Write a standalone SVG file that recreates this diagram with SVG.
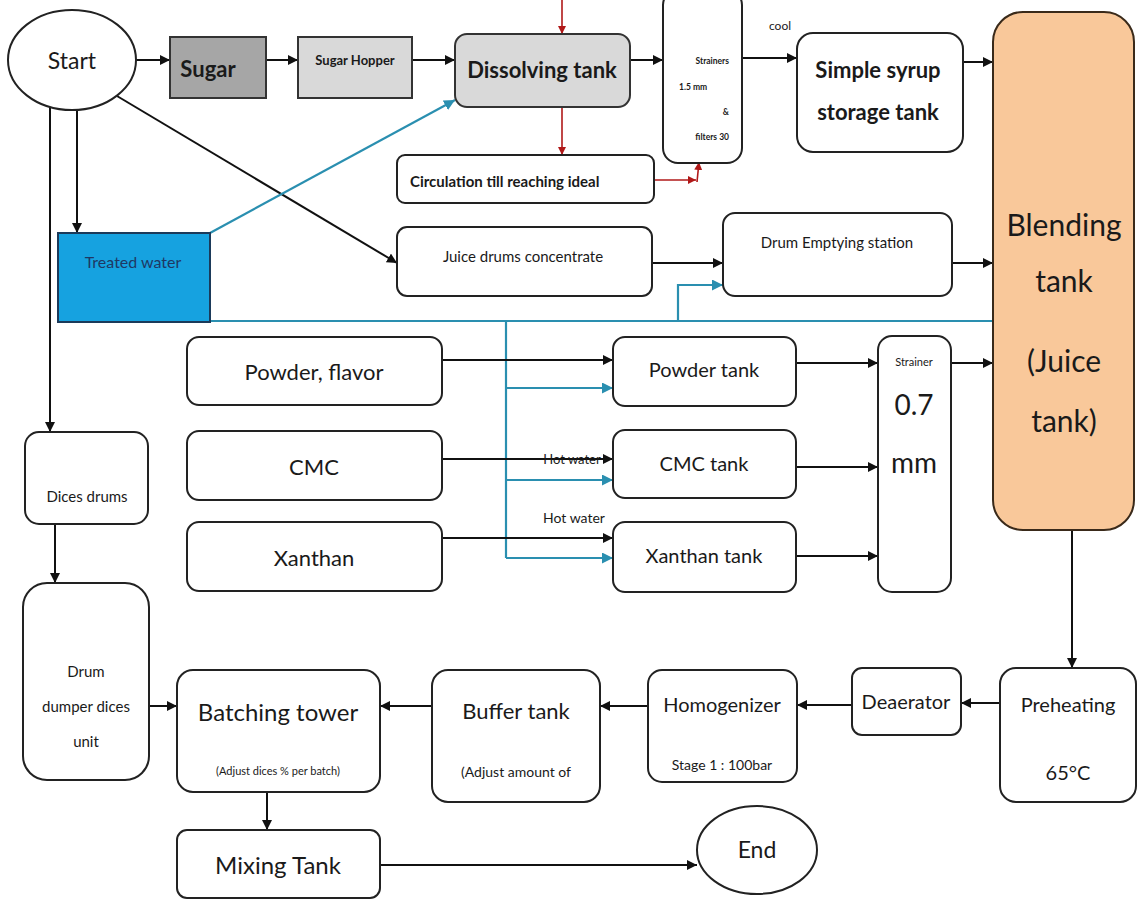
<svg xmlns="http://www.w3.org/2000/svg" width="1141" height="900" viewBox="0 0 1141 900">
<defs>
<marker id="ab" viewBox="0 0 10 10" refX="10" refY="5" markerWidth="5" markerHeight="5" orient="auto-start-reverse"><path d="M0,0 L10,5 L0,10 z" fill="#111"/></marker>
<marker id="au" viewBox="0 0 10 10" refX="10" refY="5" markerWidth="5" markerHeight="5" orient="auto"><path d="M0,0 L10,5 L0,10 z" fill="#2a8fb0"/></marker>
<marker id="ar" viewBox="0 0 10 10" refX="10" refY="5" markerWidth="5" markerHeight="5" orient="auto"><path d="M0,0 L10,5 L0,10 z" fill="#b01818"/></marker>
</defs>
<style>
.box{fill:#fff;stroke:#222;stroke-width:2}
.t{font-family:Lato,"Open Sans",sans-serif;fill:#1a1a1a;text-anchor:middle}
.b{font-weight:bold}
.k{stroke:#111;stroke-width:2;fill:none;marker-end:url(#ab)}
.u{stroke:#2a8fb0;stroke-width:2.2;fill:none}
.ua{stroke:#2a8fb0;stroke-width:2.2;fill:none;marker-end:url(#au)}
.r{stroke:#b01818;stroke-width:1.6;fill:none;marker-end:url(#ar)}
</style>
<rect width="1141" height="900" fill="#fff"/>
<g id="connectors">
<line class="k" x1="136" y1="60" x2="170" y2="60"/>
<line class="k" x1="266" y1="60" x2="298" y2="60"/>
<line class="k" x1="412" y1="60" x2="455" y2="60"/>
<line class="k" x1="630" y1="60" x2="663" y2="60"/>
<line class="k" x1="742" y1="58" x2="797" y2="58"/>
<line class="k" x1="963" y1="62" x2="993" y2="62"/>
<line class="r" x1="562" y1="0" x2="562" y2="34"/>
<line class="r" x1="562" y1="107" x2="562" y2="155"/>
<line class="r" x1="654" y1="180" x2="696" y2="180"/>
<line class="r" x1="697" y1="182" x2="699" y2="162"/>
<line class="k" x1="77" y1="110" x2="77" y2="233"/>
<line class="k" x1="50" y1="107" x2="50" y2="432"/>
<line class="k" x1="117" y1="96" x2="397" y2="263"/>
<line class="ua" x1="210" y1="233" x2="455" y2="100"/>
<line class="u" x1="210" y1="321" x2="993" y2="321"/>
<polyline class="ua" points="678,321 678,285 723,285"/>
<polyline class="u" points="506,321 506,558"/>
<line class="ua" x1="506" y1="388" x2="613" y2="388"/>
<line class="ua" x1="506" y1="480" x2="613" y2="480"/>
<line class="ua" x1="506" y1="558" x2="613" y2="558"/>
<line class="k" x1="652" y1="263" x2="723" y2="263"/>
<line class="k" x1="952" y1="263" x2="993" y2="263"/>
<line class="k" x1="442" y1="360" x2="613" y2="360"/>
<line class="k" x1="442" y1="459" x2="613" y2="459"/>
<line class="k" x1="442" y1="538" x2="613" y2="538"/>
<line class="k" x1="796" y1="363" x2="878" y2="363"/>
<line class="k" x1="796" y1="467" x2="878" y2="467"/>
<line class="k" x1="796" y1="556" x2="878" y2="556"/>
<line class="k" x1="951" y1="363" x2="993" y2="363"/>
<line class="k" x1="55" y1="525" x2="55" y2="583"/>
<line class="k" x1="149" y1="706" x2="177" y2="706"/>
<line class="k" x1="267" y1="792" x2="267" y2="830"/>
<line class="k" x1="380" y1="865" x2="697" y2="865"/>
<line class="k" x1="1072" y1="530" x2="1072" y2="668"/>
<line class="k" x1="1000" y1="703" x2="961" y2="703"/>
<line class="k" x1="852" y1="705" x2="797" y2="705"/>
<line class="k" x1="648" y1="706" x2="600" y2="706"/>
<line class="k" x1="432" y1="706" x2="380" y2="706"/>
<text class="t" x="780" y="30" font-size="12">cool</text>
<text class="t" x="572" y="464" font-size="13">Hot water</text>
<text class="t" x="574" y="523" font-size="14">Hot water</text>
</g>
<g id="start"><ellipse cx="72" cy="60" rx="64" ry="50" class="box"/><text class="t" x="72" y="69" font-size="23">Start</text></g>
<g id="sugar"><rect x="170" y="37" width="96" height="61" fill="#a6a6a6" stroke="#333" stroke-width="2"/><text class="t b" x="208" y="77" font-size="22">Sugar</text></g>
<g id="hopper"><rect x="298" y="37" width="114" height="61" fill="#d9d9d9" stroke="#333" stroke-width="2"/><text class="t b" x="355" y="65" font-size="13">Sugar Hopper</text></g>
<g id="dissolving"><rect x="455" y="34" width="175" height="73" rx="12" fill="#d9d9d9" stroke="#333" stroke-width="2"/><text class="t b" x="542" y="78" font-size="22">Dissolving tank</text></g>
<g id="circulation"><rect x="397" y="155" width="257" height="48" rx="8" class="box"/><text class="t b" x="410" y="187" font-size="15" style="text-anchor:start">Circulation till reaching ideal</text></g>
<g id="strainers"><rect x="663" y="-10" width="79" height="173" rx="15" class="box"/>
<text class="t b" x="729" y="64" font-size="8.5" style="text-anchor:end">Strainers</text>
<text class="t b" x="679" y="90" font-size="8.5" style="text-anchor:start">1.5 mm</text>
<text class="t b" x="729" y="115" font-size="8.5" style="text-anchor:end">&amp;</text>
<text class="t b" x="729" y="140" font-size="8.5" style="text-anchor:end">filters 30</text></g>
<g id="syrup"><rect x="797" y="33" width="166" height="119" rx="16" class="box"/><text class="t b" x="878" y="78" font-size="22">Simple syrup</text><text class="t b" x="878" y="120" font-size="22">storage tank</text></g>
<g id="blending"><rect x="993" y="12" width="141" height="518" rx="30" fill="#f9c89a" stroke="#3a2a1a" stroke-width="2"/>
<text class="t" x="1064" y="236" font-size="30">Blending</text>
<text class="t" x="1064" y="292" font-size="30">tank</text>
<text class="t" x="1064" y="372" font-size="30">(Juice</text>
<text class="t" x="1064" y="432" font-size="30">tank)</text></g>
<g id="treated"><rect x="58" y="233" width="152" height="89" fill="#16a2e0" stroke="#1b3a5a" stroke-width="2"/><text class="t" x="133" y="268" font-size="16" style="fill:#1f3864">Treated water</text></g>
<g id="juice"><rect x="397" y="227" width="255" height="69" rx="10" class="box"/><text class="t" x="523" y="262" font-size="15">Juice drums concentrate</text></g>
<g id="emptying"><rect x="723" y="213" width="229" height="83" rx="12" class="box"/><text class="t" x="837" y="248" font-size="15">Drum Emptying station</text></g>
<g id="powder"><rect x="187" y="337" width="255" height="68" rx="12" class="box"/><text class="t" x="314" y="380" font-size="22">Powder, flavor</text></g>
<g id="cmc"><rect x="187" y="431" width="255" height="69" rx="12" class="box"/><text class="t" x="314" y="475" font-size="22">CMC</text></g>
<g id="xanthan"><rect x="187" y="522" width="255" height="69" rx="12" class="box"/><text class="t" x="314" y="566" font-size="22">Xanthan</text></g>
<g id="powdertank"><rect x="613" y="337" width="183" height="69" rx="12" class="box"/><text class="t" x="704" y="377" font-size="20">Powder tank</text></g>
<g id="cmctank"><rect x="613" y="430" width="183" height="68" rx="12" class="box"/><text class="t" x="704" y="471" font-size="20">CMC tank</text></g>
<g id="xanthantank"><rect x="613" y="522" width="183" height="70" rx="12" class="box"/><text class="t" x="704" y="563" font-size="20">Xanthan tank</text></g>
<g id="strainer07"><rect x="878" y="336" width="73" height="256" rx="14" class="box"/>
<text class="t" x="914" y="366" font-size="11">Strainer</text>
<text class="t" x="914" y="415" font-size="28">0.7</text>
<text class="t" x="914" y="473" font-size="28">mm</text></g>
<g id="dices"><rect x="25" y="432" width="123" height="92" rx="14" class="box"/><text class="t" x="87" y="502" font-size="15">Dices drums</text></g>
<g id="dumper"><rect x="23" y="583" width="126" height="197" rx="24" class="box"/>
<text class="t" x="86" y="677" font-size="15">Drum</text>
<text class="t" x="86" y="712" font-size="15">dumper dices</text>
<text class="t" x="86" y="747" font-size="15">unit</text></g>
<g id="batching"><rect x="177" y="670" width="203" height="122" rx="16" class="box"/>
<text class="t" x="278" y="721" font-size="24">Batching tower</text>
<text class="t" x="278" y="775" font-size="11">(Adjust dices % per batch)</text></g>
<g id="mixing"><rect x="177" y="830" width="203" height="68" rx="10" class="box"/><text class="t" x="278" y="874" font-size="24">Mixing Tank</text></g>
<g id="buffer"><rect x="432" y="670" width="168" height="132" rx="16" class="box"/>
<text class="t" x="516" y="719" font-size="22">Buffer tank</text>
<text class="t" x="516" y="777" font-size="14">(Adjust amount of</text></g>
<g id="homogenizer"><rect x="648" y="670" width="149" height="112" rx="14" class="box"/>
<text class="t" x="722" y="712" font-size="20">Homogenizer</text>
<text class="t" x="722" y="770" font-size="14">Stage 1 :  100bar</text></g>
<g id="deaerator"><rect x="852" y="668" width="109" height="67" rx="10" class="box"/><text class="t" x="906" y="709" font-size="20">Deaerator</text></g>
<g id="preheating"><rect x="1000" y="668" width="136" height="134" rx="16" class="box"/>
<text class="t" x="1068" y="712" font-size="20">Preheating</text>
<text class="t" x="1068" y="780" font-size="20">65°C</text></g>
<g id="end"><ellipse cx="757" cy="850" rx="60" ry="44" class="box"/><text class="t" x="757" y="858" font-size="23">End</text></g>
</svg>
